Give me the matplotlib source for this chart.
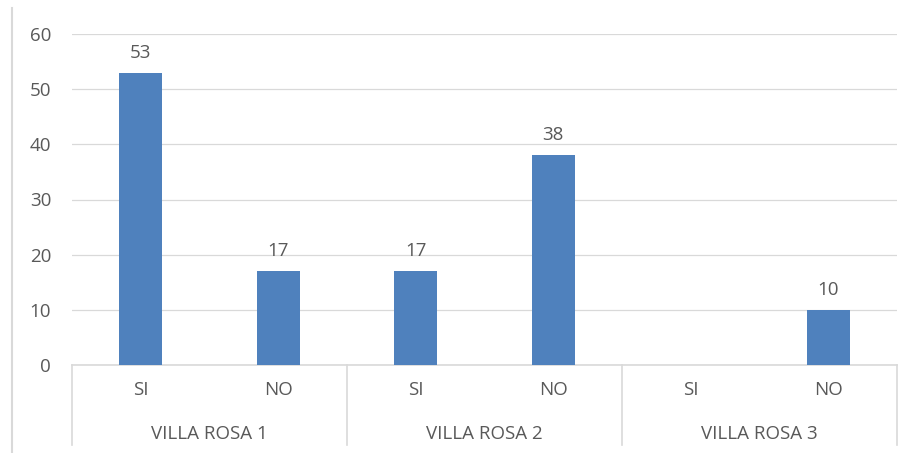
import matplotlib.pyplot as plt
from matplotlib.lines import Line2D
import numpy as np

# datos
grupos = ['VILLA ROSA 1', 'VILLA ROSA 2', 'VILLA ROSA 3']
respuestas = ['SI', 'NO']
valores = [53, 17, 17, 38, np.nan, 10]

plt.rcParams['font.family'] = ['Open Sans', 'DejaVu Sans']
texto = '#595959'
gris = '#D9D9D9'
fs = 13.5

fig = plt.figure(figsize=(9.18, 4.53), dpi=100)
W, H = 918, 453
ax = fig.add_axes([72 / W, (H - 365) / H, 825 / W, 331 / H])

x = np.arange(len(valores))
alturas = [0 if np.isnan(v) else v for v in valores]
barras = ax.bar(x, alturas, width=0.31, color='#4F81BD', zorder=3)
for xi, v in zip(x, valores):
    if not np.isnan(v):
        ax.text(xi, v + 2.0, '%d' % v, ha='center', va='bottom', fontsize=fs, color=texto)

ax.set_xlim(-0.5, len(valores) - 0.5)
ax.set_ylim(0, 60)
ax.set_yticks(range(0, 61, 10))
ax.yaxis.grid(True, color=gris, linewidth=0.9, zorder=0)
ax.tick_params(axis='y', length=0, pad=15, labelsize=fs, labelcolor=texto)
ax.set_xticks([])
for s in ['top', 'right', 'left']:
    ax.spines[s].set_visible(False)
ax.spines['bottom'].set_color(gris)
ax.spines['bottom'].set_linewidth(1.2)

# etiquetas del eje x en dos niveles
trans = ax.get_xaxis_transform()
for i in range(len(valores)):
    ax.text(i, -0.077, respuestas[i % 2], transform=trans, ha='center', va='center',
            fontsize=fs, color=texto)
for g, nombre in enumerate(grupos):
    ax.text(2 * g + 0.5, -0.207, nombre, transform=trans, ha='center', va='center',
            fontsize=fs, color=texto)
for b in [-0.5, 1.5, 3.5, 5.5]:
    ax.plot([b, b], [0, -0.242], transform=trans, color=gris, linewidth=1.2, clip_on=False)

# borde izquierdo del grafico
fig.add_artist(Line2D([12 / W, 12 / W], [0, 1 - 8 / H], color=gris, linewidth=1.5))

fig.savefig('out.png', dpi=100)
